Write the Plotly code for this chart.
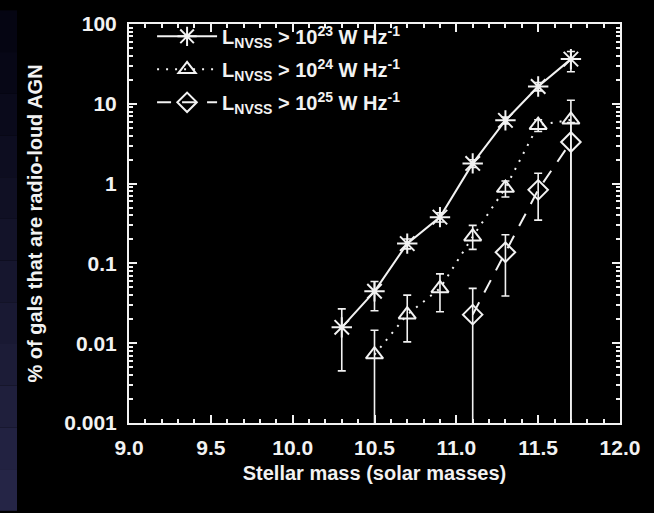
import plotly.graph_objects as go

# ---- data ----
mass = [10.3, 10.5, 10.7, 10.9, 11.1, 11.3, 11.5, 11.7]

frac23 = [0.0158, 0.0447, 0.177, 0.38, 1.79, 6.2, 16.5, 36.3]
err23_hi = [0.0111, 0.0146, 0.025, 0.05, 0.2, 0.6, 2.0, 9.0]
err23_lo = [0.0113, 0.0192, 0.025, 0.05, 0.2, 0.6, 2.0, 11.1]

mass24 = [10.5, 10.7, 10.9, 11.1, 11.3, 11.5, 11.7]
frac24 = [0.0072, 0.0228, 0.0486, 0.216, 0.88, 5.4, 6.3]
err24_hi = [0.0073, 0.0172, 0.0254, 0.084, 0.2, 0.9, 4.8]
err24_lo = [0.0072, 0.0124, 0.0238, 0.066, 0.2, 0.9, 6.3]

mass25 = [11.1, 11.3, 11.5, 11.7]
frac25 = [0.0228, 0.138, 0.835, 3.32]
err25_hi = [0.0258, 0.091, 0.515, 2.5]
err25_lo = [0.0228, 0.099, 0.486, 3.32]

names = ["L<sub>NVSS</sub> > 10<sup>23</sup> W Hz<sup>-1</sup>",
         "L<sub>NVSS</sub> > 10<sup>24</sup> W Hz<sup>-1</sup>",
         "L<sub>NVSS</sub> > 10<sup>25</sup> W Hz<sup>-1</sup>"]

ytickvals = [0.001, 0.01, 0.1, 1, 10, 100]
yticktext = ["0.001", "0.01", "0.1", "1", "10", "100"]
xtickvals = [9.0, 9.5, 10.0, 10.5, 11.0, 11.5, 12.0]
xticktext = ["9.0", "9.5", "10.0", "10.5", "11.0", "11.5", "12.0"]

# ---- style ----
WHITE = "#f2f2f2"
FONT = "Liberation Sans"

fig = go.Figure()

def add_series(x, y, hi, lo, name, symbol, dash, size, grp):
    fig.add_trace(go.Scatter(
        x=x, y=y, name=name, mode="lines+markers", legendgroup=grp,
        line=dict(color=WHITE, width=2, dash=dash),
        marker=dict(symbol=symbol, size=size, color=WHITE,
                    line=dict(color=WHITE, width=2)),
        error_y=dict(type="data", symmetric=False, array=hi, arrayminus=lo,
                     color=WHITE, thickness=1.6, width=4),
    ))

add_series(mass, frac23, err23_hi, err23_lo, names[0], "asterisk-open", "solid", 17, "a")
add_series(mass24, frac24, err24_hi, err24_lo, names[1], "triangle-up-open", "2px,7px", 15, "b")
add_series(mass25, frac25, err25_hi, err25_lo, names[2], "diamond-open", "14px,11px", 15, "c")

minor_y = [m * 10 ** e for e in range(-3, 2) for m in range(2, 10)]

fig.update_layout(
    width=654, height=513,
    margin=dict(l=129, r=34, t=14, b=90),
    paper_bgcolor="black", plot_bgcolor="black",
    font=dict(family=FONT, color=WHITE, size=20, weight="bold"),
    legend=dict(x=0.047, y=1.018, xanchor="left", yanchor="top",
                bgcolor="rgba(0,0,0,0)", font=dict(size=20, weight="bold"),
                tracegroupgap=4, itemwidth=60),
    showlegend=True,
)

fig.update_xaxes(
    range=[9, 12], showgrid=False, zeroline=False,
    showline=True, linecolor=WHITE, linewidth=2, mirror="allticks",
    ticks="inside", ticklen=8, tickwidth=2, tickcolor=WHITE,
    tickvals=xtickvals, ticktext=xticktext, ticklabelstandoff=5,
    tickfont=dict(size=21, weight="bold"),
    minor=dict(ticks="inside", ticklen=4, tickwidth=2, tickcolor=WHITE, dtick=0.1, showgrid=False),
    title=dict(text="Stellar mass (solar masses)", font=dict(size=20, weight="bold"), standoff=8),
)
fig.update_yaxes(
    type="log", range=[-3, 2], showgrid=False, zeroline=False,
    showline=True, linecolor=WHITE, linewidth=2, mirror="allticks",
    ticks="inside", ticklen=8, tickwidth=2, tickcolor=WHITE,
    tickvals=ytickvals, ticktext=yticktext, ticklabelstandoff=6,
    tickfont=dict(size=21, weight="bold"),
    minor=dict(ticks="inside", ticklen=4, tickwidth=2, tickcolor=WHITE, tickvals=minor_y, showgrid=False),
    title=dict(text="% of gals that are radio-loud AGN", font=dict(size=20, weight="bold"), standoff=16),
)

# dark blue strip at the left edge (background decoration)
n = 12
for i in range(n):
    t = i / (n - 1)
    r = int(5 + t * 32)
    g = int(5 + t * 32)
    b = int(18 + t * 52)
    fig.add_shape(type="rect", xref="paper", yref="paper", layer="below",
                  x0=-129 / 491, x1=-112 / 491,
                  y0=1 + 14 / 409 - (i + 1) * (513 / 409) / n,
                  y1=1 + 14 / 409 - i * (513 / 409) / n,
                  fillcolor=f"rgb({r},{g},{b})", line=dict(width=0))

fig.write_html("out.html")
